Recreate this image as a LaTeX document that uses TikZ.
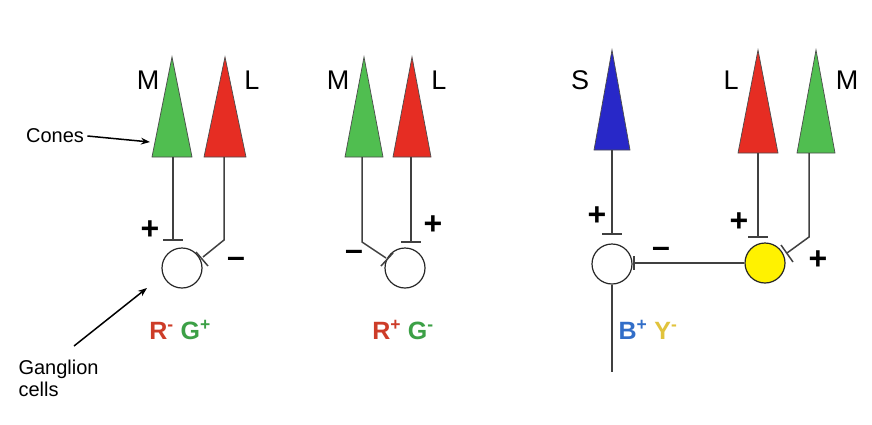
\documentclass[tikz,border=0pt]{standalone}
\usepackage{fontspec}
\setmainfont{Liberation Sans}
\usetikzlibrary{arrows.meta}
\definecolor{cg}{RGB}{80,190,80}
\definecolor{cr}{RGB}{230,45,35}
\definecolor{cb}{RGB}{40,40,200}
\definecolor{tr}{RGB}{205,60,40}
\definecolor{tg}{RGB}{60,160,70}
\definecolor{tb}{RGB}{50,110,200}
\definecolor{ty}{RGB}{225,195,60}
\tikzset{
 cone/.style={draw=black!70,line width=0.7pt},
 wire/.style={draw=black!75,line width=1.5pt},
 cell/.style={circle,draw=black!85,line width=1.2pt,minimum size=40pt,inner sep=0},
 lab/.style={font=\fontsize{27pt}{27pt}\selectfont},
 sgn/.style={font=\bfseries\fontsize{32pt}{32pt}\selectfont},
 cl/.style={font=\bfseries\fontsize{25pt}{25pt}\selectfont},
}
\begin{document}
\begin{tikzpicture}[x=1pt,y=-1pt]
\useasboundingbox (0,0) rectangle (872,424);
% cones
\foreach \n/\x/\t/\b/\w/\c/\wx in {lm/172/57/157/20/cg/173, ll/225/57/157/21/cr/224, mm/364/57/157/19/cg/362, ml/412/57/157/19/cr/411, rs/612/50/150/18/cb/612, rl/758/50/153/20/cr/758, rm/816/50/153/19/cg/809}{
 \fill[\c,cone] (\x,\t) -- (\x+\w,\b) -- (\x-\w,\b) -- cycle;
 \coordinate (\n) at (\wx,\b);
}
\node[lab] (tm1) at (148,80) {M};
\node[lab] (tl1) at (252,80) {L};
\node[lab] (tm2) at (338,80) {M};
\node[lab] (tl2) at (439,80) {L};
\node[lab] (ts) at (580,80) {S};
\node[lab] (tl3) at (731,80) {L};
\node[lab] (tm3) at (847,80) {M};
\node[font=\fontsize{20pt}{20pt}\selectfont] (cones) at (55,136) {Cones};
\draw[-{Stealth[length=9pt]},line width=1.5pt] (cones.east) -- (150,142);
\node[font=\fontsize{20pt}{22pt}\selectfont,align=left,anchor=west] (gang) at (15,378) {Ganglion\\cells};
\draw[-{Stealth[length=9pt]},line width=1.5pt] (74,346) -- (147,288);
% left
\node[cell] (g1) at (182,268) {};
\draw[wire] (lm) -- (173,240); \draw[wire] (163,240) -- (183,240);
\draw[wire] (ll) -- (224,240) -- (203,257); \draw[wire] (196,252) -- (208,266);
\node[sgn] (p1) at (150,230) {+};
\node[sgn] (m1) at (236,262) {–};
\node[cl] (c1) at (180,330) {\textcolor{tr}{R\textsuperscript{-}} \textcolor{tg}{G\textsuperscript{+}}};
% middle
\node[cell] (g2) at (405,268) {};
\draw[wire] (mm) -- (362,242) -- (386,258); \draw[wire] (393,253) -- (381,266);
\draw[wire] (ml) -- (411,242); \draw[wire] (401,242) -- (421,242);
\node[sgn] (m2) at (354,255) {–};
\node[sgn] (p2) at (433,225) {+};
\node[cl] (c2) at (403,330) {\textcolor{tr}{R\textsuperscript{+}} \textcolor{tg}{G\textsuperscript{-}}};
% right
\node[cell] (g3) at (612,264) {};
\node[cell,fill=yellow] (y3) at (765,263) {};
\draw[wire] (rs) -- (612,234); \draw[wire] (602,234) -- (622,234);
\draw[wire] (g3.south) -- (612,372);
\draw[wire] (rl) -- (758,237); \draw[wire] (748,237) -- (768,237);
\draw[wire] (rm) -- (809,237) -- (787,253); \draw[wire] (781,245) -- (793,262);
\draw[wire] (y3.west) -- (634,263); \draw[wire] (634,256) -- (634,270);
\node[sgn] (p3) at (597,216) {+};
\node[sgn] (p4) at (739,222) {+};
\node[sgn] (p5) at (818,260) {+};
\node[sgn] (m3) at (661,252) {–};
\node[cl] (c3) at (648,330) {\textcolor{tb}{B\textsuperscript{+}} \textcolor{ty}{Y\textsuperscript{-}}};
\end{tikzpicture}
\end{document}
